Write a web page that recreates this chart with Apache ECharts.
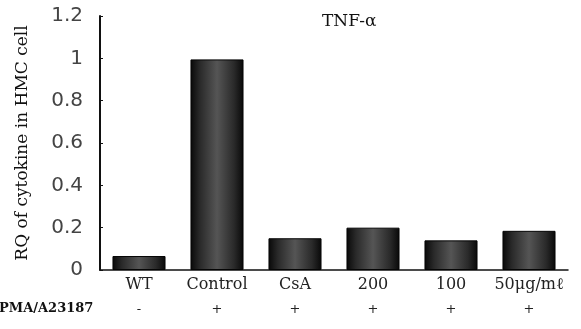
<!DOCTYPE html>
<html>
<head>
<meta charset="utf-8">
<script src="https://cdn.jsdelivr.net/npm/echarts@6/dist/echarts.min.js"></script>
<style>
  html, body { margin: 0; padding: 0; background: #fff; }
  #chart { width: 581px; height: 329px; }
</style>
</head>
<body>
<div id="chart"></div>
<script>
const chart = echarts.init(document.getElementById("chart"));

// groups and their RQ values
const groups = ["WT", "Control", "CsA", "200", "100", "50\u03bcg/m\u2113"];
const rqValues = [0.066, 0.995, 0.15, 0.2, 0.14, 0.185];
const pmaSigns = ["-", "+", "+", "+", "+", "+"];
const yTicks = [0, 0.2, 0.4, 0.6, 0.8, 1, 1.2];

const serif = '"DejaVu Serif", "Liberation Serif", serif';
const sans = '"DejaVu Sans", "Liberation Sans", sans-serif';

// stippled look of the original bars: dark edges, greyer middle
const barFill = new echarts.graphic.LinearGradient(0, 0, 1, 0, [
  { offset: 0, color: "#080808" },
  { offset: 0.18, color: "#2a2a2a" },
  { offset: 0.5, color: "#555555" },
  { offset: 0.82, color: "#2a2a2a" },
  { offset: 1, color: "#080808" },
]);

const option = {
  animation: false,
  backgroundColor: "#fff",
  grid: { left: 100, right: 13, top: 16, bottom: 59 },
  title: {
    text: "TNF-\u03b1",
    left: 317,
    top: 8,
    textStyle: { fontFamily: serif, fontSize: 17, fontWeight: "normal", color: "#111" },
  },
  graphic: [
    {
      type: "text",
      left: -1,
      top: 302,
      style: {
        text: "PMA/A23187",
        font: "bold 13px " + serif,
        fill: "#111",
      },
    },
  ],
  xAxis: {
    type: "category",
    data: groups,
    axisLine: { lineStyle: { color: "#111", width: 1.5 } },
    axisTick: { show: false },
    axisLabel: {
      margin: 5,
      interval: 0,
      formatter: (v, i) => "{g|" + v + "}\n{s|" + pmaSigns[i] + "}",
      rich: {
        g: { fontFamily: serif, fontSize: 16, color: "#222", lineHeight: 20 },
        s: { fontFamily: serif, fontSize: 13, color: "#222", lineHeight: 30 },
      },
    },
  },
  yAxis: {
    type: "value",
    min: 0,
    max: 1.2,
    interval: 0.2,
    name: "RQ of cytokine in HMC cell",
    nameLocation: "middle",
    nameGap: 69,
    nameTextStyle: { fontFamily: serif, fontSize: 17, color: "#111" },
    axisLine: { show: true, lineStyle: { color: "#111", width: 2 } },
    axisTick: { show: true, inside: true, length: 3, lineStyle: { color: "#111" } },
    splitLine: { show: false },
    axisLabel: {
      margin: 17,
      fontFamily: sans,
      fontSize: 20,
      color: "#444",
      formatter: (v) => String(yTicks.find((t) => Math.abs(t - v) < 1e-9) ?? v),
    },
  },
  series: [
    {
      type: "bar",
      data: rqValues,
      barWidth: "68%",
      itemStyle: { color: barFill, borderColor: "#050505", borderWidth: 1 },
    },
  ],
};

chart.setOption(option);
</script>
</body>
</html>
